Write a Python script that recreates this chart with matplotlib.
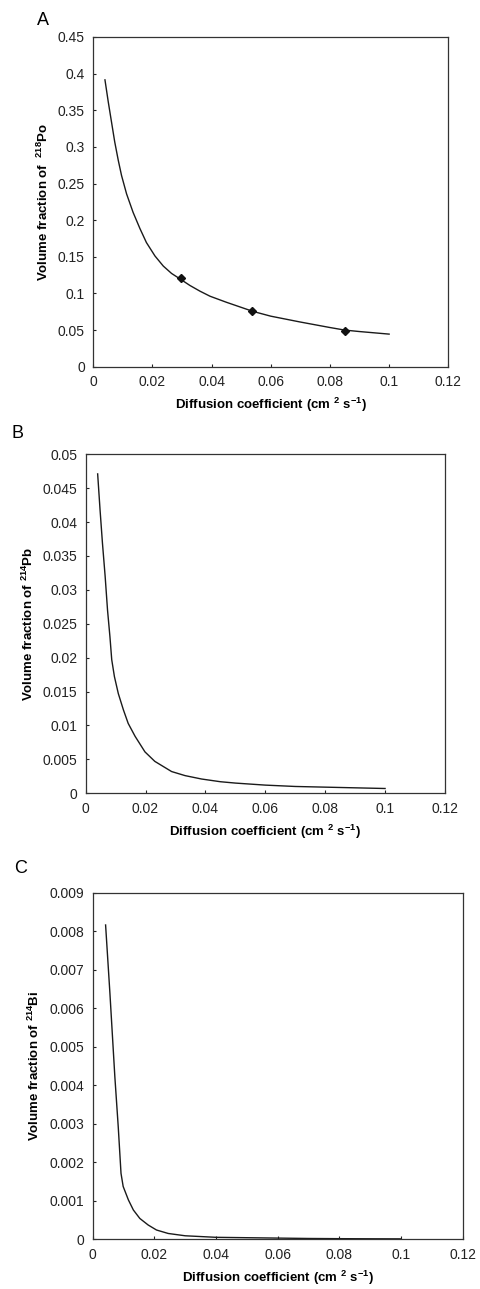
import numpy as np
import matplotlib
matplotlib.use('Agg')
import matplotlib.pyplot as plt
from matplotlib.ticker import FuncFormatter

plt.rcParams['font.family'] = ['Liberation Sans', 'DejaVu Sans']
plt.rcParams['mathtext.fontset'] = 'custom'
plt.rcParams['mathtext.bf'] = 'Liberation Sans:bold'
plt.rcParams['mathtext.rm'] = 'Liberation Sans'
plt.rcParams['mathtext.default'] = 'bf'

# Panel A - 218Po
po_x = [0.004, 0.0051, 0.0062, 0.0073, 0.0085, 0.0096, 0.0113, 0.0135, 0.0158, 0.018,
        0.0209, 0.0237, 0.0265, 0.0293, 0.0327, 0.0361, 0.0395, 0.045, 0.054, 0.06,
        0.07, 0.08, 0.085, 0.09, 0.1]
po_y = [0.3915, 0.3618, 0.3343, 0.3068, 0.2816, 0.261, 0.2359, 0.2107, 0.1887, 0.1695,
        0.1511, 0.1374, 0.1273, 0.120, 0.1109, 0.1031, 0.0962, 0.088, 0.0755, 0.069,
        0.061, 0.0535, 0.050, 0.048, 0.0445]
po_pts_x = [0.0296, 0.0537, 0.0851]
po_pts_y = [0.121, 0.076, 0.049]

# Panel B - 214Pb
pb_x = [0.004, 0.0048, 0.0056, 0.0065, 0.0073, 0.0081, 0.0087, 0.0096, 0.0109, 0.0126,
        0.0142, 0.0165, 0.0198, 0.0231, 0.0287, 0.0332, 0.0387, 0.045, 0.05, 0.06, 0.07,
        0.08, 0.09, 0.1]
pb_y = [0.0471, 0.0418, 0.0369, 0.032, 0.027, 0.0231, 0.0197, 0.0172, 0.0147, 0.0123,
        0.0103, 0.0084, 0.0061, 0.0047, 0.0032, 0.0026, 0.0021, 0.0017, 0.0015, 0.0012, 0.001,
        0.0009, 0.0008, 0.0007]

# Panel C - 214Bi
bi_x = [0.0042, 0.0056, 0.0072, 0.0083, 0.0092, 0.0099, 0.0116, 0.0132, 0.0153, 0.018,
        0.0207, 0.0245, 0.03, 0.04, 0.05, 0.06, 0.07, 0.08, 0.09, 0.1]
bi_y = [0.00816, 0.00639, 0.00422, 0.00292, 0.00171, 0.00137, 0.00102, 0.00076, 0.00054, 0.00037,
        0.00024, 0.00015, 0.00009, 0.00005, 0.00004, 0.00003, 0.00002, 0.000015, 0.000012, 0.00001]

x_ticks = np.arange(0, 0.1201, 0.02)

fig = plt.figure(figsize=(4.8, 12.89), dpi=100)

fmt = FuncFormatter(lambda v, p: '%g' % round(v, 6))

panels = [
    # letter, rect, x, y, yticks, ylabel, letter pos
    ('A', [0.194, 0.7155, 0.740, 0.2558], po_x, po_y, np.arange(0, 0.4501, 0.05),
     r'Volume fraction of  $^{218}$Po', (0.078, 0.991)),
    ('B', [0.1785, 0.3846, 0.7485, 0.263], pb_x, pb_y, np.arange(0, 0.05001, 0.005),
     r'Volume fraction of $^{214}$Pb', (0.024, 0.670)),
    ('C', [0.193, 0.0386, 0.771, 0.2689], bi_x, bi_y, np.arange(0, 0.009001, 0.001),
     r'Volume fraction of $^{214}$Bi', (0.030, 0.333)),
]

for letter, rect, xs, ys, yt, ylab, lpos in panels:
    ax = fig.add_axes(rect)
    ax.plot(xs, ys, color='#1a1a1a', lw=1.0)
    if letter == 'A':
        ax.plot(po_pts_x, po_pts_y, 'D', color='#111111', markersize=4)
    ax.set_xlim(0, 0.12)
    ax.set_ylim(yt[0], yt[-1])
    ax.set_xticks(x_ticks)
    ax.set_yticks(yt)
    ax.xaxis.set_major_formatter(fmt)
    ax.yaxis.set_major_formatter(fmt)
    ax.tick_params(direction='in', length=2, width=0.8, labelsize=10, colors='#222222', pad=6)
    for s in ax.spines.values():
        s.set_linewidth(0.9)
        s.set_color('#333333')
    ax.set_xlabel(r'Diffusion coefficient (cm $^{2}$ s$^{-1}$)', fontsize=9.5, fontweight='bold', labelpad=5)
    ax.set_ylabel(ylab, fontsize=9.5, fontweight='bold', labelpad=5)
    fig.text(lpos[0], lpos[1], letter, fontsize=13, ha='left', va='top')

fig.savefig('out.png', dpi=100, facecolor='white')
